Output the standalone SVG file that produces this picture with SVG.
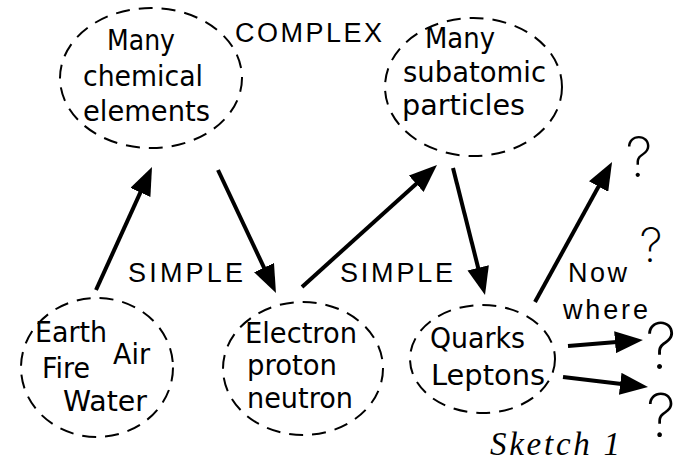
<svg xmlns="http://www.w3.org/2000/svg" width="682" height="461" viewBox="0 0 682 461">
<style>
.node{fill:none;stroke:#000;stroke-width:2;stroke-dasharray:14 9}
.nt{font-family:"DejaVu Sans",Verdana,sans-serif;font-size:27.5px;fill:#000}
.lb{font-family:"Liberation Sans",Arial,sans-serif;font-size:27px;fill:#000}
.q{font-family:Inter,Roboto,"DejaVu Sans",sans-serif;font-weight:200;fill:#000;text-anchor:middle}
.edge{stroke:#000;stroke-width:4;fill:none;marker-end:url(#ah)}
</style>
<defs>
<marker id="ah" markerUnits="userSpaceOnUse" markerWidth="28" markerHeight="22" viewBox="0 0 28 22" refX="14" refY="11" orient="auto">
<path d="M0,0 L28,11 L0,22 z" fill="#000"/>
</marker>
</defs>
<rect width="682" height="461" fill="#fff"/>
<g id="n-chemical">
<ellipse class="node" cx="151" cy="78" rx="91" ry="70"/>
<text class="nt" x="107" y="50" textLength="68" lengthAdjust="spacingAndGlyphs">Many</text>
<text class="nt" x="83" y="86" textLength="120" lengthAdjust="spacingAndGlyphs">chemical</text>
<text class="nt" x="83" y="121" textLength="127" lengthAdjust="spacingAndGlyphs">elements</text>
</g>
<g id="n-subatomic">
<ellipse class="node" cx="473.5" cy="87" rx="88.5" ry="69"/>
<text class="nt" x="425" y="48" textLength="70" lengthAdjust="spacingAndGlyphs">Many</text>
<text class="nt" x="403" y="82" textLength="143" lengthAdjust="spacingAndGlyphs">subatomic</text>
<text class="nt" x="402" y="115" textLength="123" lengthAdjust="spacingAndGlyphs">particles</text>
</g>
<g id="n-classical">
<ellipse class="node" cx="97" cy="367.5" rx="76" ry="69.5"/>
<text class="nt" x="35" y="342" textLength="72" lengthAdjust="spacingAndGlyphs">Earth</text>
<text class="nt" x="113" y="364" textLength="37" lengthAdjust="spacingAndGlyphs">Air</text>
<text class="nt" x="42" y="378" textLength="48" lengthAdjust="spacingAndGlyphs">Fire</text>
<text class="nt" x="63" y="411" textLength="84" lengthAdjust="spacingAndGlyphs">Water</text>
</g>
<g id="n-nucleons">
<ellipse class="node" cx="303" cy="368.5" rx="80" ry="66.5"/>
<text class="nt" x="245" y="343" textLength="112" lengthAdjust="spacingAndGlyphs">Electron</text>
<text class="nt" x="247" y="375" textLength="90" lengthAdjust="spacingAndGlyphs">proton</text>
<text class="nt" x="247" y="408" textLength="106" lengthAdjust="spacingAndGlyphs">neutron</text>
</g>
<g id="n-quarks">
<ellipse class="node" cx="482.5" cy="359" rx="72.5" ry="54"/>
<text class="nt" x="430" y="348" textLength="95" lengthAdjust="spacingAndGlyphs">Quarks</text>
<text class="nt" x="431" y="385" textLength="114" lengthAdjust="spacingAndGlyphs">Leptons</text>
</g>
<g id="labels">
<text class="lb" x="235" y="42" textLength="147">COMPLEX</text>
<text class="lb" x="128" y="282" textLength="115">SIMPLE</text>
<text class="lb" x="340" y="282" textLength="113">SIMPLE</text>
<text class="lb" x="568" y="282" textLength="59">Now</text>
<text class="lb" x="563" y="319" textLength="85">where</text>
<text x="490" y="455" textLength="130" style="font-family:'Liberation Serif','Times New Roman',serif;font-style:italic;font-size:33px">Sketch 1</text>
</g>
<g id="unknowns">
<text class="q" x="639" y="177" font-size="55">?</text>
<text class="q" x="651" y="262" font-size="47">?</text>
<text class="q" x="661" y="369" font-size="64">?</text>
<text class="q" x="661" y="437" font-size="60">?</text>
</g>
<g id="connectors">
<line class="edge" x1="96" y1="290" x2="146.2" y2="179.7"/>
<line class="edge" x1="218" y1="170" x2="270.0" y2="280.3"/>
<line class="edge" x1="302" y1="287" x2="426.6" y2="174.4"/>
<line class="edge" x1="453" y1="168" x2="481.6" y2="281.4"/>
<line class="edge" x1="535" y1="302" x2="605.3" y2="174.3"/>
<line class="edge" x1="568" y1="346" x2="629.0" y2="341.1"/>
<line class="edge" x1="563" y1="377" x2="634.1" y2="385.4"/>
</g>
</svg>
